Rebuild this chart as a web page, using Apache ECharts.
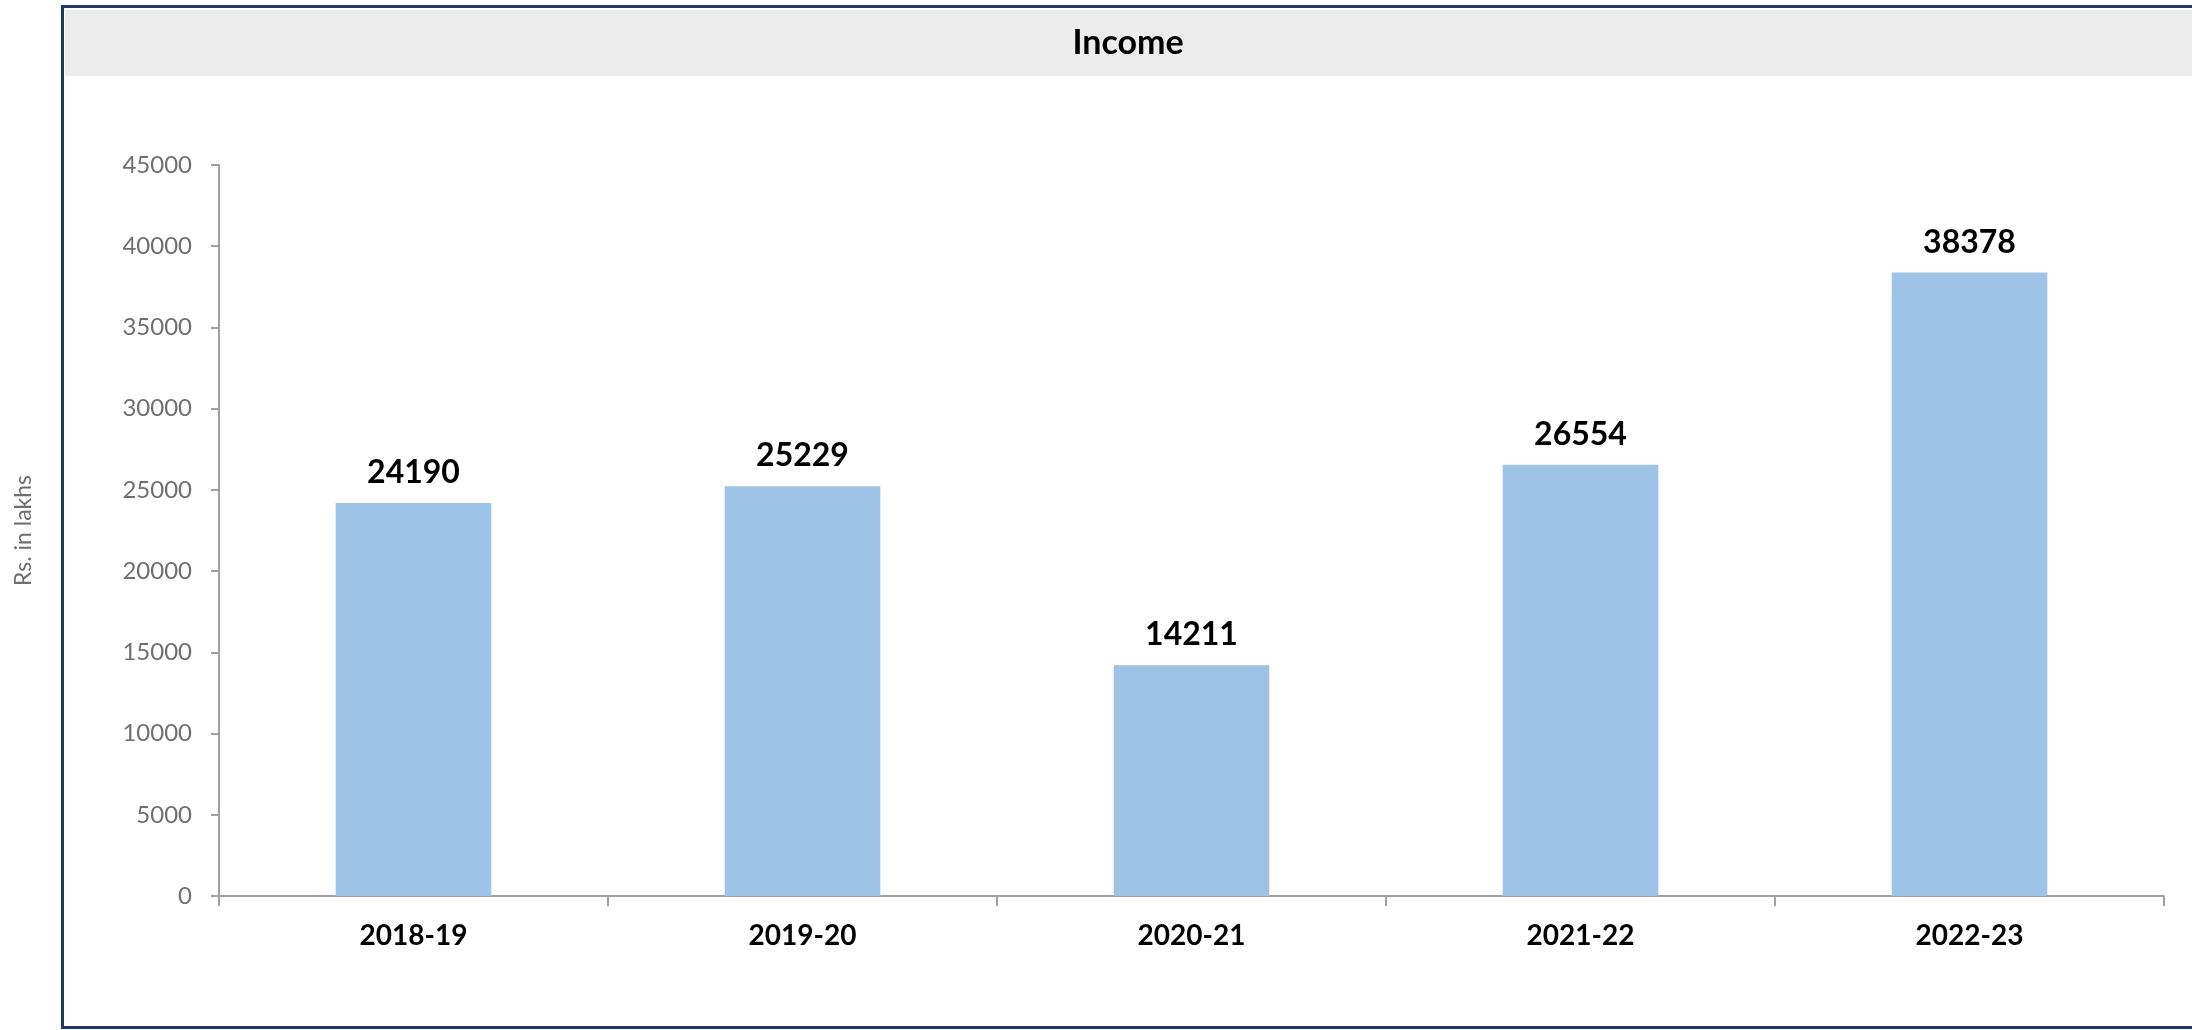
<!DOCTYPE html>
<html>
<head>
<meta charset="utf-8">
<script src="https://cdn.jsdelivr.net/npm/echarts@6/dist/echarts.min.js"></script>
<style>
html,body{margin:0;padding:0;background:#fff;}
#chart{width:2192px;height:1030px;}
</style>
</head>
<body>
<div id="chart"></div>
<script>
const titleText = "Income";
const yAxisTitle = "Rs. in lakhs";
const categories = ["2018-19", "2019-20", "2020-21", "2021-22", "2022-23"];
const incomeValues = [24190, 25229, 14211, 26554, 38378];
const yMin = 0, yMax = 45000, yInterval = 5000;

const FONT = "Lato, 'Open Sans', sans-serif";
const chart = echarts.init(document.getElementById('chart'), null, {renderer: 'canvas'});
chart.setOption({
  backgroundColor: '#ffffff',
  animation: false,
  graphic: [
    {type: 'rect', silent: true, z: -10, shape: {x: 62.5, y: 6.5, width: 2200, height: 1021}, style: {fill: '#ffffff', stroke: '#203864', lineWidth: 3}},
    {type: 'rect', silent: true, z: -9, shape: {x: 65, y: 10, width: 2140, height: 66}, style: {fill: '#ececec'}},
    {type: 'text', silent: true, z: 10, x: 1128, y: 43, style: {text: titleText, font: "bold 34px " + FONT, fill: '#000000', textAlign: 'center', textVerticalAlign: 'middle'}}
  ],
  grid: {left: 219, right: 28, top: 165, bottom: 134, containLabel: false},
  xAxis: {
    type: 'category',
    data: categories,
    axisLine: {lineStyle: {color: '#a0a0a0', width: 2}},
    axisTick: {show: true, length: 10, alignWithLabel: false, lineStyle: {color: '#a0a0a0', width: 2}},
    axisLabel: {color: '#000000', fontFamily: FONT, fontWeight: 'bold', fontSize: 28, margin: 26}
  },
  yAxis: {
    type: 'value',
    min: yMin, max: yMax, interval: yInterval,
    name: yAxisTitle,
    nameLocation: 'middle',
    nameGap: 184,
    nameRotate: 90,
    nameTextStyle: {color: '#6f6f6f', fontFamily: FONT, fontSize: 23},
    axisLine: {show: true, lineStyle: {color: '#a0a0a0', width: 2}},
    axisTick: {show: true, length: 8, lineStyle: {color: '#a0a0a0', width: 2}},
    splitLine: {show: false},
    axisLabel: {color: '#6f6f6f', fontFamily: FONT, fontSize: 24, margin: 27, formatter: function (v) { return String(v); }}
  },
  series: [{
    type: 'bar',
    data: incomeValues,
    barWidth: '40%',
    itemStyle: {color: '#9dc3e6'},
    label: {show: true, position: 'top', distance: 14, color: '#000000', fontFamily: FONT, fontWeight: 'bold', fontSize: 32}
  }]
});
</script>
</body>
</html>
